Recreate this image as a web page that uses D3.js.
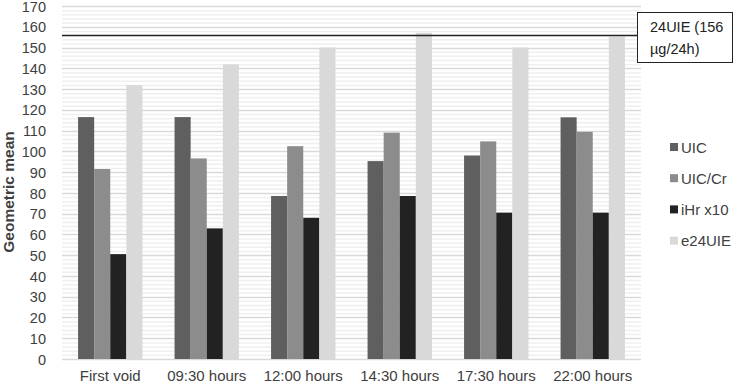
<!DOCTYPE html>
<html><head><meta charset="utf-8">
<script src="https://cdn.jsdelivr.net/npm/d3@7"></script>
<style>body{margin:0;background:#fff}svg{display:block;font-family:"Liberation Sans",Arial,sans-serif}</style>
</head><body><svg id="c" width="733" height="386"></svg>
<script>
const categories = ["First void","09:30 hours","12:00 hours","14:30 hours","17:30 hours","22:00 hours"];
const seriesNames = ["UIC","UIC/Cr","iHr x10","e24UIE"];
const UIC = [116.5,116.5,78.5,95.3,98,116.4];
const UICCr = [91.5,96.6,102.5,109,104.8,109.4];
const iHr = [50.5,62.9,68,78.5,70.5,70.5];
const e24UIE = [131.9,141.9,150,157.1,150,155.2];
const refValue = 156;
const yTicks = d3.range(0,171,10);
const colors = ["#5f5f5f","#8c8c8c","#222222","#d9d9d9"];

const series = [UIC,UICCr,iHr,e24UIE];
const svg = d3.select("#c");
const m = {l:62,r:641,t:6,b:359};
const x = d3.scaleBand().domain(categories).range([m.l,m.r]).paddingInner(0.333).paddingOuter(0.1665);
const xs = d3.scaleBand().domain(seriesNames).range([0,x.bandwidth()]);
const y = d3.scaleLinear().domain([0,170]).range([m.b,m.t]);

// minor grid
svg.append("g").selectAll("line").data(d3.range(0,171,2).filter(v=>v%10!==0)).join("line")
  .attr("x1",m.l).attr("x2",m.r).attr("y1",d=>y(d)+0.5).attr("y2",d=>y(d)+0.5)
  .attr("stroke","#efefef").attr("stroke-width",1.5);
// major grid
svg.append("g").selectAll("line").data(yTicks).join("line")
  .attr("x1",m.l).attr("x2",m.r).attr("y1",d=>Math.round(y(d))+0.5).attr("y2",d=>Math.round(y(d))+0.5)
  .attr("stroke","#d9d9d9").attr("stroke-width",1.5);

// y axis labels
const yAxis = d3.axisLeft(y).tickValues(yTicks).tickSize(0).tickPadding(0);
const ya = svg.append("g").attr("transform",`translate(${m.l-16},0.5)`).call(yAxis);
ya.select(".domain").remove();
ya.selectAll("text").attr("font-size",14.5).attr("fill","#404040").attr("font-family","'Liberation Sans',Arial,sans-serif");

// x axis labels
const xAxis = d3.axisBottom(x).tickSize(0).tickPadding(0);
const xa = svg.append("g").attr("transform",`translate(0,${m.b+11})`).call(xAxis);
xa.select(".domain").remove();
xa.selectAll("text").attr("font-size",15).attr("fill","#404040").attr("font-family","'Liberation Sans',Arial,sans-serif");

// bars
const g = svg.append("g");
series.forEach((vals,si)=>{
  g.append("g").selectAll("rect").data(vals).join("rect")
    .attr("x",(d,i)=>x(categories[i])+xs(seriesNames[si]))
    .attr("width",xs.bandwidth())
    .attr("y",d=>y(d)).attr("height",d=>y(0)-y(d))
    .attr("fill",colors[si]);
});

// reference line
const ry = Math.round(y(refValue))+0.5;
svg.append("line").attr("x1",m.l).attr("x2",637).attr("y1",ry).attr("y2",ry)
  .attr("stroke","#222").attr("stroke-width",1.3);
svg.append("rect").attr("x",637.5).attr("y",12.5).attr("width",95).attr("height",50)
  .attr("fill","#fff").attr("stroke","#222").attr("stroke-width",1);
svg.append("text").attr("x",650).attr("y",32).attr("font-size",14.5).attr("fill","#222").text("24UIE (156");
svg.append("text").attr("x",650).attr("y",54).attr("font-size",14.5).attr("fill","#222").text("µg/24h)");

// y title
svg.append("text").attr("transform",`translate(14,192) rotate(-90)`).attr("text-anchor","middle")
  .attr("font-size",15.5).attr("font-weight","bold").attr("fill","#404040").text("Geometric mean");

// legend
const lg = svg.append("g").selectAll("g").data(seriesNames).join("g")
  .attr("transform",(d,i)=>`translate(670,${147+i*31.2})`);
lg.append("rect").attr("x",0).attr("y",-4).attr("width",8).attr("height",8).attr("fill",(d,i)=>colors[i]);
lg.append("text").attr("x",11).attr("y",5.5).attr("font-size",15).attr("fill","#404040").text(d=>d);
</script></body></html>
